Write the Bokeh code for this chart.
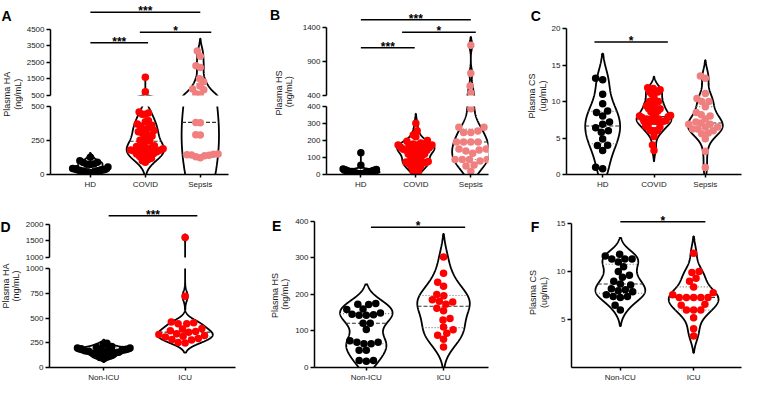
import numpy as np
from bokeh.plotting import figure
from bokeh.layouts import row, column
from bokeh.models import Range1d, FixedTicker, CustomJSTickFormatter
from bokeh.core.properties import value
from bokeh.embed import file_html
from bokeh.resources import INLINE

# ---------------- data ----------------
GROUPS_3 = ["HD", "COVID", "Sepsis"]
GROUPS_2 = ["Non-ICU", "ICU"]
COLORS_3 = ["#000000", "#FF0000", "#F08080"]
COLORS_2 = ["#000000", "#FF0000"]

HD_HA = [126, 102, 90, 88, 78, 76, 73, 55, 45, 43, 36, 35, 31, 27, 26, 19, 17, 12]
HD_HS = [128, 55, 32, 30, 28, 25, 22, 20, 18, 18, 15, 14, 12, 10, 8, 6, 5, 4]
HD_CS = [13.2, 13.0, 11.0, 9.7, 8.7, 8.5, 8.0, 7.2, 6.9, 6.4, 6.0, 5.8, 4.85, 4.0, 3.96, 3.3, 1.0, 0.8]

NONICU_HA = [245, 229, 212, 205, 197, 197, 190, 185, 181, 178, 172, 168, 165, 160, 155, 150, 145, 133, 120, 110, 102, 90]
ICU_HA = [1600, 720, 459, 452, 443, 443, 395, 388, 372, 363, 357, 341, 334, 324, 315, 309, 293, 283, 277, 252, 248]
NONICU_HS = [175, 173, 172, 160, 159, 149, 146, 144, 143, 143, 121, 121, 104, 73, 69, 69, 65, 65, 47, 47, 19, 19, 17]
ICU_HS = [302, 258, 233, 222, 200, 196, 185, 181, 179, 173, 162, 155, 134, 130, 111, 103, 94, 88, 77, 56]
NONICU_CS = [11.8, 11.6, 11.3, 11.3, 11.3, 11.0, 10.5, 10.0, 9.6, 9.4, 9.0, 8.7, 8.6, 8.2, 8.1, 8.0, 7.9, 7.6, 7.4, 7.4, 7.3, 6.5, 6.0]
ICU_CS = [11.9, 10.0, 9.9, 9.3, 9.0, 8.4, 7.8, 7.6, 7.3, 7.3, 7.3, 7.3, 7.3, 6.6, 6.5, 6.0, 6.0, 6.0, 5.2, 4.05, 3.3]

COVID_HA = NONICU_HA + ICU_HA
COVID_HS = NONICU_HS + ICU_HS
COVID_CS = NONICU_CS + ICU_CS

SEPSIS_HA = [3190, 2870, 2300, 2190, 1520, 1330, 1080, 900, 850, 600, 580, 383, 380, 292, 290, 150, 148, 145, 144, 141, 138, 130, 124]
SEPSIS_HS = [1138, 727, 540, 437, 387, 278, 278, 256, 247, 247, 191, 191, 191, 191, 150, 150, 144, 138, 125, 88, 88, 88, 88, 79, 56, 50, 19]
SEPSIS_CS = [13.5, 13.2, 11.1, 10.4, 10.0, 10.0, 9.3, 8.5, 8.2, 8.0, 7.6, 7.2, 7.05, 6.9, 6.9, 6.5, 6.5, 6.25, 6.25, 6.0, 5.7, 5.6, 4.9, 3.2, 0.97]

# significance brackets: (from, to, height, label)
SIG_A = [(0, 2, 5543, "***"), (0.9, 2.2, 4326, "*"), (0, 1.05, 3688, "***")]
SIG_B = [(0, 2, 1513, "***"), (0.75, 2.09, 1330, "*"), (0, 0.98, 1104, "***")]
SIG_C = [(-0.16, 1.27, 18.16, "*")]
SIG_D = [(0.06, 1.15, 2257, "***")]
SIG_E = [(0.06, 1.28, 383.7, "*")]
SIG_F = [(0, 1.16, 15.17, "*")]

TICKS_A = ([500, 1500, 2500, 3500, 4500], [0, 250, 500])
TICKS_B = ([400, 900, 1400], [0, 100, 200, 300, 400])
TICKS_C = [0, 5, 10, 15, 20]
TICKS_D = ([1000, 1500, 2000], [0, 250, 500, 750, 1000])
TICKS_E = [0, 100, 200, 300, 400]
TICKS_F = [0, 5, 10, 15]

# ---------------- layout helpers ----------------
SX, SY = 743 / 759, 384 / 400
FONT = "Liberation Sans"
TXT = "#1a1a1a"


def X(v):
    return int(round(v * SX))


def Y(v):
    return int(round(v * SY))


def kde(vals):
    v = np.asarray(vals, float)
    n = len(v)
    sd = v.std(ddof=1)
    q75, q25 = np.percentile(v, [75, 25])
    bw = 0.9 * min(sd, (q75 - q25) / 1.34) * n ** -0.2
    grid = np.linspace(v.min() - 2 * bw, v.max() + 2 * bw, 800)
    dens = np.exp(-0.5 * ((grid[:, None] - v[None, :]) / bw) ** 2).sum(1)
    return grid, dens / dens.max()


def swarm(vals, ypx, xppu, d, limit):
    vals = np.asarray(vals, float)
    order = np.argsort(vals)
    placed = []
    out = np.zeros(len(vals))
    for i in order:
        y = ypx(vals[i])
        cands = [0.0]
        intervals = []
        for (px, py) in placed:
            dy = abs(py - y)
            if dy < d:
                dx = np.sqrt(d * d - dy * dy)
                intervals.append((px - dx, px + dx))
                cands += [px - dx, px + dx]
        cands.sort(key=lambda c: (abs(c), c))
        x = 0.0
        for c in cands:
            if all(not (a + 1e-6 < c < b - 1e-6) for a, b in intervals):
                x = c
                break
        placed.append((x, y))
        out[i] = x
    m = np.abs(out).max()
    if m > limit:
        out = out * limit / m
    return out / xppu


def label_fig(xs, ys, letter, lpos, text, tpos):
    p = figure(width=X(xs[1]) - X(xs[0]), height=Y(ys[1]) - Y(ys[0]),
               x_range=Range1d(xs[0], xs[1]), y_range=Range1d(ys[1], ys[0]),
               x_axis_type=None, y_axis_type=None, output_backend="svg",
               toolbar_location=None, min_border=0, min_border_left=0,
               min_border_right=0, min_border_top=0, min_border_bottom=0)
    p.outline_line_color = None
    p.grid.visible = False
    p.text(x=[lpos[0]], y=[lpos[1]], text=[letter], text_font=value(FONT),
           text_font_style="bold", text_font_size="14px", text_color="#000000",
           text_align="left", text_baseline="alphabetic")
    p.text(x=[tpos[0]], y=[tpos[1]], text=[text], angle=np.pi / 2,
           text_font=value(FONT), text_font_size="9px", text_color=TXT,
           text_align="center", text_baseline="middle", text_line_height=1.05)
    return p


def build(xfig, xframe, xanch, segs, groups, colors, data, sig, W=0.34, psize=7.5):
    x0, x1 = xfig
    fx0, fx1 = xframe
    xa, xb = xanch
    ncat = len(groups)
    xppu = (xb - xa) / (ncat - 1)
    xr = Range1d((fx0 - xa) / xppu, (fx1 - xa) / xppu)

    def seg_of(v):
        for k, s in enumerate(segs):
            if v >= s["bounds"][0] or k == len(segs) - 1:
                return k

    def ypx(v):
        pa, va, pb, vb = segs[seg_of(v)]["anch"]
        return pa + (v - va) * (pb - pa) / (vb - va)

    shapes = []
    for gi, vals in enumerate(data):
        grid, dens = kde(vals)
        hw = dens * W
        qs = np.percentile(vals, [25, 50, 75])
        offs = swarm(vals, ypx, xppu, psize * 0.98, W * xppu * 0.95)
        shapes.append((grid, hw, qs, offs))

    figs = []
    for k, s in enumerate(segs):
        last = k == len(segs) - 1
        pa, va, pb, vb = s["anch"]
        slope = (vb - va) / (pb - pa)
        yr = Range1d(va + (s["frame"][1] - pa) * slope, va + (s["frame"][0] - pa) * slope)
        p = figure(width=X(x1) - X(x0), height=Y(s["fig"][1]) - Y(s["fig"][0]),
                   x_range=xr, y_range=yr, output_backend="svg", toolbar_location=None,
                   x_axis_type="linear" if last else None,
                   min_border_left=X(fx0) - X(x0), min_border_right=X(x1) - X(fx1),
                   min_border_top=Y(s["frame"][0]) - Y(s["fig"][0]),
                   min_border_bottom=Y(s["fig"][1]) - Y(s["frame"][1]))
        p.outline_line_color = None
        p.grid.visible = False
        ya = p.yaxis[0]
        ya.ticker = FixedTicker(ticks=s["ticks"])
        ya.bounds = s["bounds"]
        ya.axis_line_width = 1.5
        ya.major_tick_line_width = 1.5
        ya.major_tick_out = 4
        ya.major_tick_in = 0
        ya.minor_tick_line_color = None
        ya.major_label_text_font = FONT
        ya.major_label_text_font_size = "8px"
        ya.major_label_text_color = TXT
        ya.major_label_standoff = 2
        if last:
            xa_ = p.xaxis[0]
            xa_.ticker = FixedTicker(ticks=list(range(ncat)))
            xa_.formatter = CustomJSTickFormatter(
                args=dict(names=list(groups)),
                code="var l = names[Math.round(tick)]; return (l === undefined) ? '' : l;")
            xa_.axis_line_width = 1.5
            xa_.major_tick_line_width = 1.5
            xa_.major_tick_out = 3
            xa_.major_tick_in = 0
            xa_.minor_tick_line_color = None
            xa_.major_label_text_font = FONT
            xa_.major_label_text_font_size = "8px"
            xa_.major_label_text_color = TXT
            xa_.major_label_standoff = 2

        for gi, (vals, col) in enumerate(zip(data, colors)):
            grid, hw, qs, offs = shapes[gi]
            xs = np.concatenate([gi + hw, (gi - hw)[::-1]])
            ys = np.concatenate([grid, grid[::-1]])
            p.patch(xs, ys, fill_color="white", line_color="black", line_width=1.8)
            for q, dash, c in [(qs[0], "1 2", "#777777"), (qs[1], "4 2", "#333333"),
                               (qs[2], "1 2", "#777777")]:
                if seg_of(q) != k:
                    continue
                h = float(np.interp(q, grid, hw))
                p.segment(x0=[gi - h], y0=[q], x1=[gi + h], y1=[q],
                          line_color=c, line_dash=dash, line_width=1.1)
            sel = [i for i, v in enumerate(vals) if seg_of(v) == k]
            if sel:
                p.scatter(x=[gi + offs[i] for i in sel], y=[vals[i] for i in sel],
                          size=psize, fill_color=col, line_color=None)
        figs.append(p)

    top = figs[0]
    for (a, b, y, lab) in sig:
        top.segment(x0=[a], y0=[y], x1=[b], y1=[y], line_color="black", line_width=1.5)
        top.text(x=[(a + b) / 2], y=[y], text=[lab], text_font=value(FONT),
                 text_font_size="12px", text_font_style="bold", text_color="#000000",
                 text_align="center", text_baseline="alphabetic", y_offset=-1)
    if len(figs) == 1:
        return figs[0]
    return column(*figs, spacing=0)


# ---------------- panels ----------------
labA = label_fig((0, 24), (0, 200), "A", (1, 12), "Plasma HA\n(ng/mL)", (12.5, 105))
pA = build((24, 250), (50, 233), (91, 204),
           [dict(fig=(0, 104.5), frame=(5, 99), anch=(99, 500, 30, 4500), ticks=TICKS_A[0], bounds=(500, 4500)),
            dict(fig=(104.5, 200), frame=(110, 181), anch=(181, 0, 110, 500), ticks=TICKS_A[1], bounds=(0, 500))],
           GROUPS_3, COLORS_3, [HD_HA, COVID_HA, SEPSIS_HA], SIG_A)

labB = label_fig((250, 302), (0, 200), "B", (275, 11), "Plasma  HS\n(ng/mL)", (289, 102))
pB = build((302, 500), (333, 498), (368, 480),
           [dict(fig=(0, 104.5), frame=(5, 99), anch=(99, 400, 28, 1400), ticks=TICKS_B[0], bounds=(400, 1400)),
            dict(fig=(104.5, 200), frame=(110, 181), anch=(181, 0, 110, 400), ticks=TICKS_B[1], bounds=(0, 400))],
           GROUPS_3, COLORS_3, [HD_HS, COVID_HS, SEPSIS_HS], SIG_B)

labC = label_fig((500, 560), (0, 200), "C", (542, 12), "Plasma CS\n(ug/mL)", (549, 107))
pC = build((560, 759), (578, 757), (615, 720),
           [dict(fig=(0, 200), frame=(5, 181), anch=(181, 0, 29, 20), ticks=TICKS_C, bounds=(0, 20))],
           GROUPS_3, COLORS_3, [HD_CS, COVID_CS, SEPSIS_CS], SIG_C)

labD = label_fig((0, 22), (200, 400), "D", (0, 228), "Plasma HA\n(ng/mL)", (10.5, 300))
pD = build((22, 250), (48, 240), (104, 188),
           [dict(fig=(200, 273.5), frame=(210, 268), anch=(268, 1000, 233, 2000), ticks=TICKS_D[0], bounds=(1000, 2000)),
            dict(fig=(273.5, 400), frame=(279, 384), anch=(384, 0, 279, 1000), ticks=TICKS_D[1], bounds=(0, 1000))],
           GROUPS_2, COLORS_2, [NONICU_HA, ICU_HA], SIG_D)

labE = label_fig((250, 298), (200, 400), "E", (277, 226), "Plasma  HS\n(ng/mL)", (285, 310))
pE = build((298, 500), (320, 498), (373, 452),
           [dict(fig=(200, 400), frame=(212, 384), anch=(384, 0, 229.7, 400), ticks=TICKS_E, bounds=(0, 400))],
           GROUPS_2, COLORS_2, [NONICU_HS, ICU_HS], SIG_E)

labF = label_fig((500, 565), (200, 400), "F", (542, 227), "Plasma CS\n(ug/mL)", (550, 308))
pF = build((565, 759), (583, 757), (633, 708),
           [dict(fig=(200, 400), frame=(212, 382), anch=(382.3, 0, 231.7, 15), ticks=TICKS_F, bounds=(0, 15))],
           GROUPS_2, COLORS_2, [NONICU_CS, ICU_CS], SIG_F)

row1 = row(labA, pA, labB, pB, labC, pC, spacing=0)
row2 = row(labD, pD, labE, pE, labF, pF, spacing=0)
layout = column(row1, row2, spacing=0)

open("out.html", "w").write(file_html(layout, INLINE))
